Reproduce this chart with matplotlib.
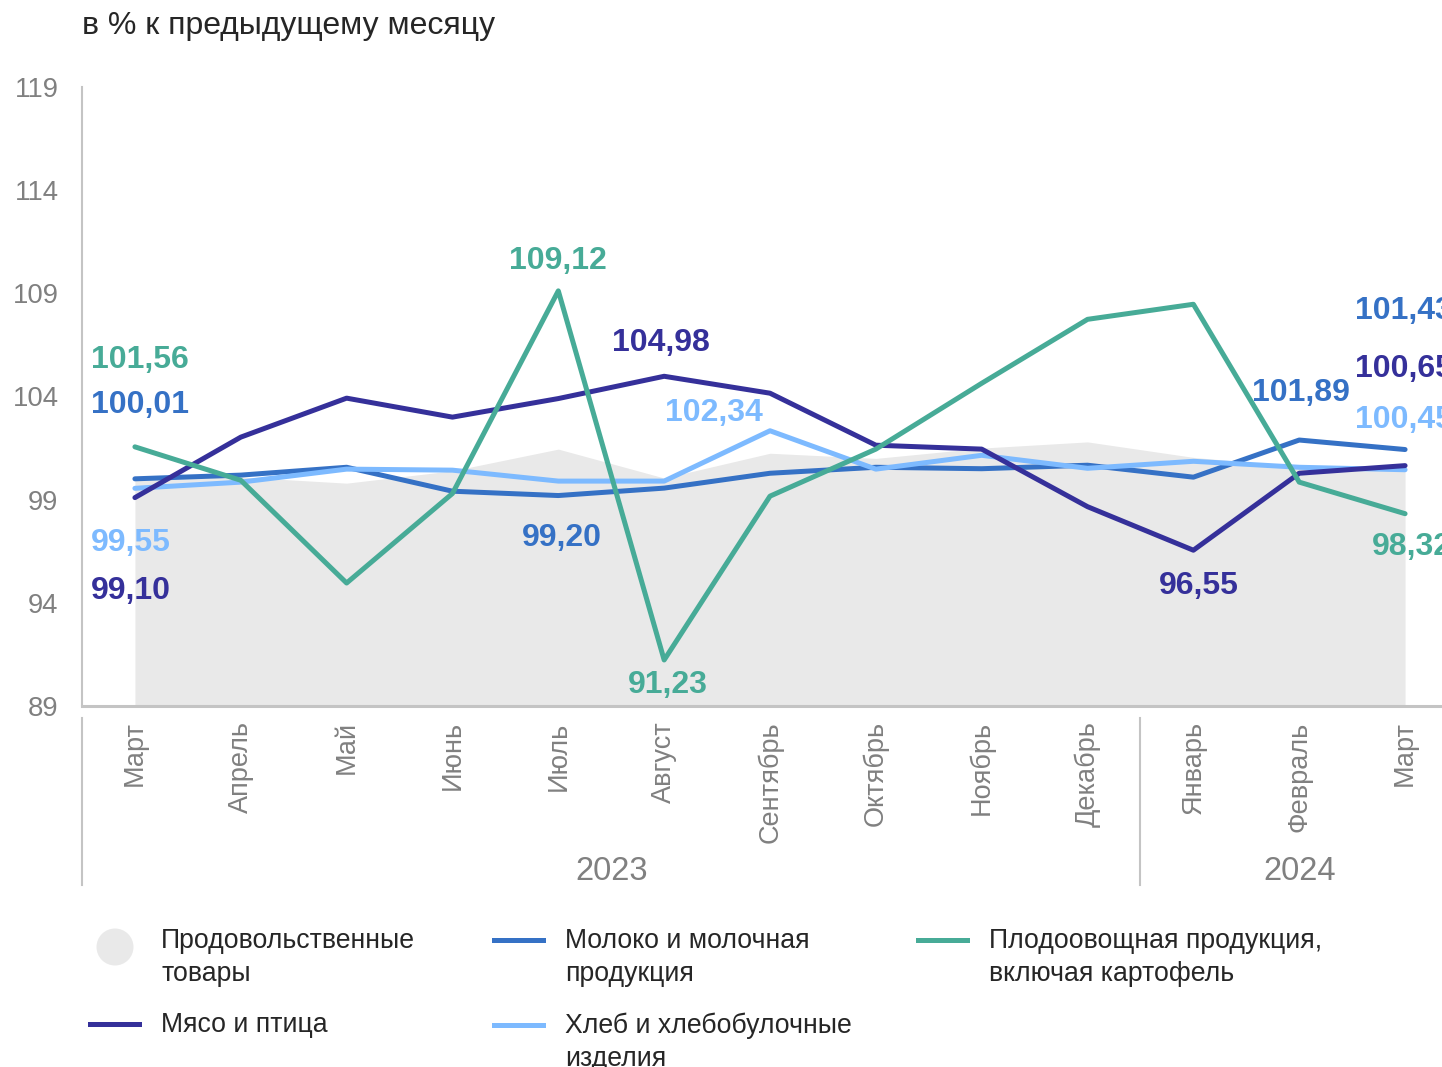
import numpy as np
import matplotlib.pyplot as plt
from matplotlib.lines import Line2D
from matplotlib.patches import Ellipse
import matplotlib.transforms as mtransforms

plt.rcParams['font.family'] = ['Liberation Sans', 'DejaVu Sans']

months = ['Март', 'Апрель', 'Май', 'Июнь', 'Июль', 'Август', 'Сентябрь',
          'Октябрь', 'Ноябрь', 'Декабрь', 'Январь', 'Февраль', 'Март']
years = ['2023', '2024']

food = [100.0, 100.1, 99.8, 100.4, 101.45, 100.05, 101.25, 101.0, 101.5, 101.8, 101.05, 100.6, 100.6]
meat = [99.10, 102.03, 103.92, 103.0, 103.9, 104.98, 104.16, 101.64, 101.45, 98.66, 96.55, 100.28, 100.65]
milk = [100.01, 100.19, 100.57, 99.41, 99.20, 99.56, 100.28, 100.57, 100.5, 100.67, 100.09, 101.89, 101.43]
bread = [99.55, 99.85, 100.48, 100.43, 99.9, 99.9, 102.34, 100.48, 101.15, 100.52, 100.86, 100.57, 100.45]
fruit = [101.56, 99.94, 94.96, 99.3, 109.12, 91.23, 99.17, 101.45, 104.64, 107.74, 108.47, 99.85, 98.32]

c_food = '#e9e9e9'
c_meat = '#35309a'
c_milk = '#3571c5'
c_bread = '#7dbaff'
c_fruit = '#47ab97'
c_grey = '#808080'

fig = plt.figure(figsize=(14.42, 10.67), dpi=100)
ax = fig.add_axes([82 / 1442, 1 - 706 / 1067, 1376 / 1442, 619 / 1067])

x = np.arange(len(months))
ax.fill_between(x, 89, food, color=c_food, lw=0, zorder=1)
series = [(milk, c_milk), (bread, c_bread), (meat, c_meat), (fruit, c_fruit)]
for vals, col in series:
    ax.plot(x, vals, color=col, lw=3.6, solid_capstyle='round', zorder=3)

ax.set_xlim(-0.5, 12.5)
ax.set_ylim(89, 119)
ax.set_yticks(np.arange(89, 120, 5))
ax.set_xticks(x)
ax.set_xticklabels(months, rotation=90, va='top', ha='center')
ax.tick_params(axis='x', length=0, pad=11, labelsize=19.5, labelcolor=c_grey)
ax.tick_params(axis='y', length=0, pad=17, labelsize=19.8, labelcolor=c_grey)
for s in ['top', 'right']:
    ax.spines[s].set_visible(False)
ax.spines['left'].set_color('#c4c4c4')
ax.spines['left'].set_linewidth(1.5)
ax.spines['bottom'].set_color('#c4c4c4')
ax.spines['bottom'].set_linewidth(2.2)

# year separators and labels
trans = mtransforms.blended_transform_factory(ax.transData, ax.transAxes)
for xs in [-0.5, 9.5]:
    ax.add_line(Line2D([xs, xs], [-0.0194, -0.289], transform=trans,
                       color='#c4c4c4', lw=1.5, clip_on=False))
ax.text(4.5, -0.268, years[0], transform=trans, ha='center', va='center',
        fontsize=23.5, color=c_grey)
ax.text(11.0, -0.268, years[1], transform=trans, ha='center', va='center',
        fontsize=23.5, color=c_grey)

# value labels: (series, index, color, dx, dy, ha)
labels = [
    (fruit, 0, c_fruit, 5, 87, 'center'),
    (milk, 0, c_milk, 5, 74, 'center'),
    (bread, 0, c_bread, -4, -55, 'center'),
    (meat, 0, c_meat, -4, -93, 'center'),
    (fruit, 4, c_fruit, 0, 30, 'center'),
    (meat, 5, c_meat, -3, 33, 'center'),
    (bread, 6, c_bread, -56, 18, 'center'),
    (milk, 4, c_milk, 4, -42, 'center'),
    (fruit, 5, c_fruit, 4, -25, 'center'),
    (meat, 10, c_meat, 5, -36, 'center'),
    (milk, 11, c_milk, 2, 47, 'center'),
    (milk, 12, c_milk, -50, 139, 'left'),
    (meat, 12, c_meat, -50, 97, 'left'),
    (bread, 12, c_bread, -50, 50, 'left'),
    (fruit, 12, c_fruit, -33, -33, 'left'),
]
for vals, i, col, dx, dy, ha in labels:
    txt = f'{vals[i]:.2f}'.replace('.', ',')
    ax.annotate(txt, (x[i], vals[i]), xytext=(dx, dy), textcoords='offset pixels',
                ha=ha, va='center', fontsize=23, fontweight='bold', color=col,
                zorder=5, annotation_clip=False)

fig.text(82 / 1442, 1 - 26 / 1067, 'в % к предыдущему месяцу', ha='left', va='center',
         fontsize=23, color='#262626')

# legend
W, H = 1442, 1067
leg_items = [
    ('Продовольственные\nтовары', c_food, 'circle', 90, 940),
    ('Мясо и птица', c_meat, 'line', 90, 1024),
    ('Молоко и молочная\nпродукция', c_milk, 'line', 494, 940),
    ('Хлеб и хлебобулочные\nизделия', c_bread, 'line', 494, 1025),
    ('Плодоовощная продукция,\nвключая картофель', c_fruit, 'line', 918, 940),
]
for lab, col, kind, lx, ly in leg_items:
    if kind == 'circle':
        fig.add_artist(Ellipse((115 / W, 1 - 947 / H), 37 / W, 37 / H,
                               transform=fig.transFigure, color=col, lw=0))
    else:
        fig.add_artist(Line2D([lx / W, (lx + 49) / W], [1 - ly / H, 1 - ly / H],
                              transform=fig.transFigure, color=col, lw=3.6))
    fig.text((lx + 71) / W, 1 - (ly - 12) / H, lab, ha='left', va='top',
             fontsize=19.2, color='#262626', linespacing=1.33)

fig.savefig('out.png', dpi=100)
